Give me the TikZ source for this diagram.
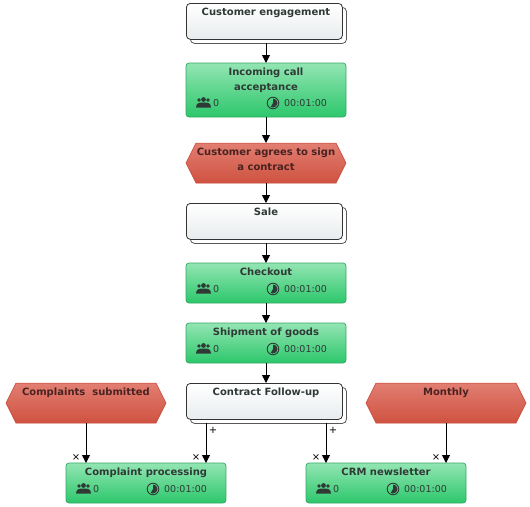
\documentclass[tikz,border=0pt]{standalone}
\usepackage{fontspec}
\setmainfont{DejaVu Sans}
\usetikzlibrary{arrows.meta,calc}
\definecolor{txt}{HTML}{2F3A36}
\definecolor{redtxt}{HTML}{4A2320}
\definecolor{green1}{HTML}{93E5B3}
\definecolor{green2}{HTML}{2CC76B}
\definecolor{green3}{HTML}{35A866}
\definecolor{white1}{HTML}{E8ECEE}
\definecolor{red1}{HTML}{E17E72}
\definecolor{red2}{HTML}{CF5240}
\definecolor{red3}{HTML}{C8402F}
\tikzset{
  x=1pt,y=-1pt,
  ext/.style={minimum width=160pt,minimum height=#1,inner sep=0pt,outer sep=0pt},
  wback/.style={minimum width=156pt,minimum height=36pt,inner sep=0pt,rounded corners=4pt,draw=black!65,fill=white,line width=.8pt},
  wfront/.style={minimum width=156pt,minimum height=36pt,inner sep=0pt,rounded corners=4pt,draw=black!80,top color=white,bottom color=white1,line width=.8pt},
  hexfill/.style={top color=red1,bottom color=red2,draw=red3,line width=.5pt},
  title/.style={font=\fontsize{10pt}{15pt}\selectfont\bfseries,text=txt,align=center,anchor=north,inner sep=0pt},
  info/.style={font=\fontsize{9.5pt}{10pt}\selectfont,text=txt,inner sep=0pt,anchor=west},
  conn/.style={draw=black,line width=1pt,-{Triangle[length=8pt,width=8pt]}},
  lab/.style={font=\fontsize{10pt}{10pt}\selectfont,inner sep=0pt,text=black}
}
\newcommand{\stackbox}[4]{% name, x-left, y-top, text
  \node[wback,anchor=north west] (#1back) at (#2+4,#3+4) {};
  \node[wfront,anchor=north west] (#1front) at (#2,#3) {};
  \node[ext=40pt,anchor=north west] (#1) at (#2,#3) {};
  \node[title] (#1text) at (#2+80,#3+4.5) {#4};
}
\newcommand{\greenbox}[5]{% name, x-left, y-top, height, text
  \node[ext=#4pt,anchor=north west,rounded corners=3pt,top color=green1,bottom color=green2,draw=green3,line width=.7pt] (#1) at (#2,#3) {};
  \node[title] (#1text) at (#2+80,#3+4.5) {#5};
  % people icon
  \fill[txt] (#2+17.5,#3+#4-17.5) circle (2.4pt);
  \fill[txt] (#2+13,#3+#4-17) circle (1.9pt);
  \fill[txt] (#2+22,#3+#4-17) circle (1.9pt);
  \fill[txt] (#2+10,#3+#4-9.5) .. controls (#2+10,#3+#4-14.5) and (#2+14,#3+#4-14.5) .. (#2+17.5,#3+#4-14.5) .. controls (#2+21,#3+#4-14.5) and (#2+25,#3+#4-14.5) .. (#2+25,#3+#4-9.5) -- cycle;
  \node[info] (#1people) at (#2+27,#3+#4-14) {0};
  % clock icon
  \draw[txt,line width=.9pt] (#2+87,#3+#4-14) circle (5.8pt);
  \fill[txt] (#2+87,#3+#4-14) -- (#2+87,#3+#4-18.5) arc[start angle=90,end angle=-120,radius=4.5pt] -- cycle;
  \node[info] (#1time) at (#2+98,#3+#4-14) {00:01:00};
}
\newcommand{\hexbox}[4]{% name, x-left, y-top, text
  \node[ext=40pt,anchor=north west] (#1) at (#2,#3) {};
  \path[hexfill] (#2,#3+20) -- (#2+10,#3) -- (#2+150,#3) -- (#2+160,#3+20) -- (#2+150,#3+40) -- (#2+10,#3+40) -- cycle;
  \node[title,text=redtxt] (#1text) at (#2+80,#3+4.5) {#4};
}
\begin{document}
\begin{tikzpicture}
\useasboundingbox (0,0) rectangle (530,506);
\stackbox{eng}{186}{3}{Customer engagement}
\greenbox{inc}{186}{63}{54}{Incoming call\\acceptance}
\hexbox{agree}{186}{143}{Customer agrees to sign\\a contract}
\stackbox{sale}{186}{203}{Sale}
\greenbox{chk}{186}{263}{40}{Checkout}
\greenbox{ship}{186}{323}{40}{Shipment of goods}
\stackbox{fol}{186}{383}{Contract Follow-up}
\hexbox{comp}{6}{383}{Complaints\ \ submitted}
\hexbox{mon}{366}{383}{Monthly}
\greenbox{proc}{66}{463}{40}{Complaint processing}
\greenbox{crm}{306}{463}{40}{CRM newsletter}
\draw[conn] (eng.south) -- (inc.north);
\draw[conn] (inc.south) -- (agree.north);
\draw[conn] (agree.south) -- (sale.north);
\draw[conn] (sale.south) -- (chk.north);
\draw[conn] (chk.south) -- (ship.north);
\draw[conn] (ship.south) -- (fol.north);
\draw[conn] (comp.south) -- (comp.south |- proc.north);
\coordinate (folout) at ($(fol.south west)+(20,0)$);
\coordinate (folout2) at ($(fol.south west)+(140,0)$);
\draw[conn] (folout) -- (folout |- proc.north);
\draw[conn] (folout2) -- (folout2 |- crm.north);
\draw[conn] (mon.south) -- (mon.south |- crm.north);
\node[lab] (x1) at (76,458) {×};
\node[lab] (x2) at (196,458) {×};
\node[lab] (x3) at (316,458) {×};
\node[lab] (x4) at (436,458) {×};
\node[lab] (p1) at (213,430) {+};
\node[lab] (p2) at (333,430) {+};
\end{tikzpicture}
\end{document}
